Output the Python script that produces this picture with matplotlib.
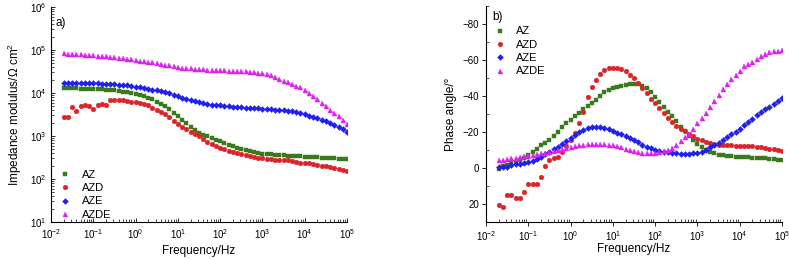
import matplotlib
matplotlib.use('Agg')
import matplotlib.pyplot as plt
from matplotlib.ticker import LogLocator, MultipleLocator, NullFormatter

plt.rcParams['font.family'] = ['Liberation Sans', 'DejaVu Sans']
plt.rcParams['mathtext.fontset'] = 'custom'
plt.rcParams['mathtext.rm'] = 'Liberation Sans'

# frequency sweep, Hz (10 points per decade, low to high)
freq = [0.02, 0.0251, 0.0316, 0.0398, 0.0501, 0.0631, 0.0794,
        0.1, 0.126, 0.158, 0.2, 0.251, 0.316, 0.398, 0.501, 0.631, 0.794,
        1, 1.26, 1.58, 2.0, 2.51, 3.16, 3.98, 5.01, 6.31, 7.94,
        10, 12.6, 15.8, 20, 25.1, 31.6, 39.8, 50.1, 63.1, 79.4,
        100, 126, 158, 200, 251, 316, 398, 501, 631, 794,
        1000, 1260, 1580, 2000, 2510, 3160, 3980, 5010, 6310, 7940,
        10000, 12600, 15800, 20000, 25100, 31600, 39800, 50100, 63100, 79400,
        100000]

# impedance modulus, ohm cm2
z_az = [12900, 12900, 12900, 12800, 12700, 12600, 12500, 12400, 12300, 12200,
        12000, 11800, 11500, 11200, 10800, 10500, 10000, 9550, 8900, 8300,
        7760, 7080, 6310, 5620, 4900, 4170, 3470, 2880, 2400, 2000,
        1660, 1380, 1200, 1070, 977, 891, 822, 759, 692, 631,
        575, 531, 490, 462, 437, 417, 403, 389, 380, 372,
        367, 363, 355, 351, 347, 339, 335, 331, 327, 324,
        316, 313, 309, 305, 302, 299, 295, 288]
z_azd = [2690, 2690, 4790, 3800, 5010, 5130, 5010, 4270, 5250, 5500,
         5370, 6920, 6760, 6760, 6760, 6610, 6310, 6030, 5890, 5500,
         5130, 4570, 4070, 3630, 3160, 2690, 2290, 1950, 1660, 1450,
         1260, 1120, 977, 851, 741, 661, 589, 537, 490, 457,
         427, 398, 372, 355, 339, 324, 309, 302, 295, 288,
         282, 275, 275, 269, 257, 251, 240, 234, 229, 219,
         214, 204, 195, 186, 178, 170, 162, 155]
z_aze = [17000, 17000, 17000, 17000, 17000, 17000, 17000, 17000, 16800, 16600,
         16400, 16200, 15800, 15700, 15500, 15100, 14600, 14100, 13600, 13200,
         12600, 12000, 11500, 11000, 10500, 9770, 9120, 8410, 7760, 7240,
         6760, 6380, 6030, 5750, 5500, 5370, 5250, 5130, 5010, 4900,
         4790, 4730, 4620, 4570, 4520, 4420, 4370, 4320, 4220, 4170,
         4070, 4030, 3980, 3850, 3720, 3550, 3390, 3160, 2950, 2750,
         2570, 2370, 2190, 2000, 1820, 1620, 1450, 1260]
z_azde = [83200, 82200, 81300, 80400, 79400, 77600, 76700, 75900, 74100, 72400,
          70800, 69200, 67600, 66100, 64600, 63100, 61000, 58900, 56900, 55000,
          53100, 51300, 49000, 47300, 45700, 43700, 41700, 39800, 38900, 38000,
          37200, 36700, 35900, 35500, 35100, 34700, 34300, 33900, 33500, 33100,
          33100, 32400, 32000, 31600, 30900, 30200, 29500, 28500, 27500, 25700,
          24000, 21600, 19500, 17800, 16200, 14800, 13500, 11500, 9770, 8320,
          7080, 5890, 4900, 4120, 3470, 2850, 2340, 1860]

# phase angle, degrees
p_az = [0.5, -1.2, -1.8, -2.5, -3.2, -4.2, -5.6, -7.2, -9.0, -10.8,
        -12.5, -14.1, -15.7, -17.6, -19.8, -22.6, -24.9, -26.8, -28.8, -30.6,
        -32.5, -34.5, -36.3, -38.0, -40.2, -42.1, -43.4, -44.4, -45.2, -45.8,
        -46.3, -46.7, -46.8, -46.4, -45.7, -44.2, -42.0, -39.5, -36.6, -34.0,
        -31.2, -28.6, -26.0, -22.8, -20.6, -17.9, -15.5, -13.3, -11.7, -10.2,
        -9.1, -8.2, -7.4, -7.0, -6.7, -6.4, -6.2, -6.1, -6.0, -5.9,
        -5.8, -5.7, -5.6, -5.4, -5.2, -4.9, -4.7, -4.4]
p_azd = [20.6, 21.5, 15.0, 15.0, 16.5, 16.5, 13.1, 9.1, 9.1, 9.1,
         5.2, -1.0, -4.5, -5.5, -6.0, -9.0, -12.0, -15.6, -19.5, -25.0,
         -31.0, -39.5, -45.0, -49.0, -52.0, -54.3, -55.3, -55.8, -55.6, -54.7,
         -53.6, -51.8, -49.8, -47.3, -44.4, -41.4, -38.5, -36.0, -33.4, -30.7,
         -28.0, -25.6, -23.4, -21.9, -20.7, -19.1, -17.6, -16.3, -15.3, -14.5,
         -13.9, -13.4, -13.0, -12.8, -12.6, -12.5, -12.4, -12.3, -12.3, -12.2,
         -12.1, -11.8, -11.5, -11.1, -10.7, -10.3, -9.9, -9.4]
p_aze = [-0.4, -0.7, -0.8, -1.5, -2.0, -2.2, -2.5, -3.4, -3.9, -4.8,
         -6.2, -7.6, -9.0, -10.3, -11.6, -13.2, -14.8, -16.5, -18.4, -19.9,
         -21.3, -22.3, -22.7, -22.8, -22.7, -22.3, -21.7, -20.5, -19.7, -18.7,
         -17.8, -16.8, -15.5, -14.3, -13.0, -11.9, -10.9, -10.0, -9.4, -9.0,
         -8.6, -8.3, -8.1, -8.0, -8.0, -8.0, -8.1, -8.3, -9.0, -10.0,
         -11.4, -12.8, -14.0, -15.5, -17.0, -18.6, -20.0, -21.7, -23.6, -25.5,
         -27.3, -29.2, -31.0, -32.5, -34.0, -35.5, -37.2, -38.8]
p_azde = [-4.2, -4.5, -5.0, -5.4, -5.8, -6.2, -6.5, -6.9, -7.3, -7.8,
          -8.1, -8.4, -8.9, -9.3, -9.8, -10.4, -10.9, -11.4, -12.0, -12.5,
          -12.9, -13.1, -13.3, -13.3, -13.3, -13.2, -13.0, -12.7, -12.2, -11.6,
          -10.8, -10.0, -9.4, -8.9, -8.4, -8.1, -8.1, -8.3, -8.8, -9.4,
          -10.2, -11.1, -12.6, -14.9, -17.0, -19.0, -21.6, -25.0, -28.0, -30.7,
          -33.7, -37.4, -40.5, -44.0, -46.8, -49.5, -51.8, -54.0, -56.5, -57.6,
          -59.1, -60.7, -62.1, -63.2, -64.2, -64.7, -65.2, -65.6]

names = ['AZ', 'AZD', 'AZE', 'AZDE']
colors = ['#3a7a1c', '#dc2428', '#2020f0', '#dc22f0']
markers = ['s', 'o', 'D', '^']
sizes = [3.0, 3.4, 3.0, 3.6]
modulus = [z_az, z_azd, z_aze, z_azde]
phase = [p_az, p_azd, p_aze, p_azde]

fig = plt.figure(figsize=(7.89, 2.59), dpi=100)
ax1 = fig.add_axes([0.0646, 0.143, 0.3752, 0.830])
ax2 = fig.add_axes([0.616, 0.143, 0.3752, 0.834])

for name, c, m, s, z, p in zip(names, colors, markers, sizes, modulus, phase):
    ax1.plot(freq, z, ls='none', marker=m, ms=s, mfc=c, mec=c, mew=0.3, label=name)
    ax2.plot(freq, p, ls='none', marker=m, ms=s, mfc=c, mec=c, mew=0.3, label=name)

for ax in (ax1, ax2):
    ax.set_xscale('log')
    ax.set_xlim(1e-2, 1e5)
    ax.xaxis.set_major_locator(LogLocator(base=10, numticks=20))
    ax.xaxis.set_minor_locator(LogLocator(base=10, subs=range(2, 10), numticks=20))
    ax.xaxis.set_minor_formatter(NullFormatter())
    ax.spines['top'].set_visible(False)
    ax.spines['right'].set_visible(False)
    ax.spines['left'].set_linewidth(0.8)
    ax.spines['bottom'].set_linewidth(0.8)
    ax.tick_params(labelsize=7, width=0.6)
    ax.tick_params(which='minor', width=0.5, length=2)

ax1.set_yscale('log')
ax1.set_ylim(1e1, 1e6)
ax1.yaxis.set_major_locator(LogLocator(base=10, numticks=10))
ax1.yaxis.set_minor_locator(LogLocator(base=10, subs=range(2, 10), numticks=10))
ax1.yaxis.set_minor_formatter(NullFormatter())
ax1.tick_params(which='both', direction='in')
ax1.tick_params(which='major', length=3)
ax1.set_xlabel('Frequency/Hz', fontsize=8.5, labelpad=3)
ax1.set_ylabel('Impedance modulus/\u03a9 cm$^2$', fontsize=8.5, labelpad=4)
ax1.legend(loc='lower left', frameon=False, fontsize=8, handlelength=1.0,
           handletextpad=1.0, labelspacing=0.3, borderpad=0.0,
           borderaxespad=0.0, bbox_to_anchor=(0.03, 0.01))
ax1.text(0.015, 0.955, 'a)', transform=ax1.transAxes, fontsize=8.5, va='top')

ax2.set_ylim(30, -90)
ax2.yaxis.set_minor_locator(MultipleLocator(10))
ax2.set_yticks([-80, -60, -40, -20, 0, 20])
ax2.tick_params(which='major', direction='out', length=3, pad=2)
ax2.tick_params(which='minor', direction='in', length=2)
ax2.set_xlabel('Frequency/Hz', fontsize=8.5, labelpad=0)
ax2.set_ylabel('Phase angle/\u00b0', fontsize=8.5, labelpad=4)
ax2.legend(loc='upper left', frameon=False, fontsize=8, handlelength=1.0,
           handletextpad=0.9, labelspacing=0.3, borderpad=0.0,
           borderaxespad=0.0, bbox_to_anchor=(0.03, 0.905))
ax2.text(0.02, 0.975, 'b)', transform=ax2.transAxes, fontsize=8.5, va='top')

fig.savefig('out.png', dpi=100)
